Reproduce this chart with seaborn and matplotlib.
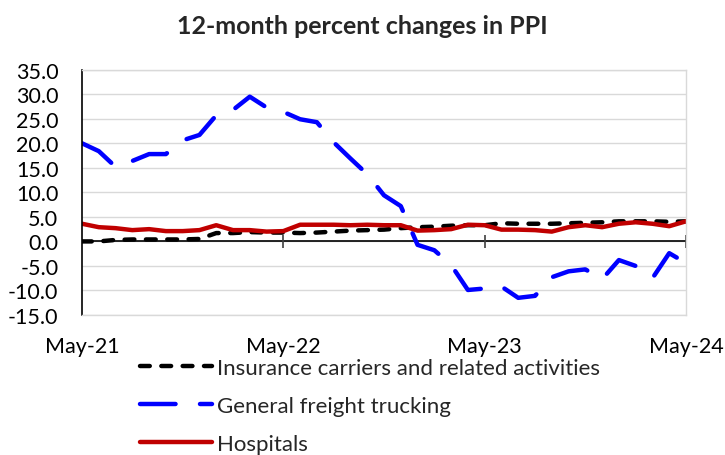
import numpy as np
import pandas as pd
import matplotlib
matplotlib.use("Agg")
import matplotlib.pyplot as plt
import seaborn as sns

# 12-month percent changes, May-21 .. May-24 (monthly)
insurance = [0.0, 0.0, 0.3, 0.4, 0.4, 0.4, 0.4, 0.5, 1.7, 1.7, 1.9, 1.8, 1.8,
             1.7, 1.8, 2.0, 2.2, 2.3, 2.4, 2.7, 2.9, 3.0, 3.2, 3.3, 3.3,
             3.7, 3.6, 3.6, 3.6, 3.7, 3.8, 3.9, 4.1, 4.1, 4.1, 4.0, 4.1]
trucking = [20.0, 18.4, 15.2, 16.4, 17.8, 17.8, 20.6, 21.7, 25.7, 26.8, 29.5, 27.3, 26.4,
            24.9, 24.3, 20.2, 16.9, 13.7, 9.4, 7.2, -0.7, -1.8, -4.8, -9.9, -9.6,
            -9.2, -11.5, -11.1, -7.3, -6.1, -5.7, -7.7, -3.8, -5.0, -7.5, -2.4, -4.4]
hospitals = [3.6, 2.9, 2.7, 2.3, 2.5, 2.1, 2.1, 2.3, 3.3, 2.3, 2.3, 2.0, 2.1,
             3.4, 3.4, 3.4, 3.3, 3.4, 3.3, 3.3, 2.2, 2.3, 2.5, 3.4, 3.3,
             2.4, 2.4, 2.3, 2.0, 2.9, 3.3, 2.9, 3.6, 3.9, 3.6, 3.1, 4.1]
series_names = ["Insurance carriers and related activities",
                "General freight trucking",
                "Hospitals"]
tick_pos = [0, 12, 24, 36]
tick_labels = ["May-21", "May-22", "May-23", "May-24"]

months = np.arange(len(insurance))
df = pd.concat([
    pd.DataFrame({"month": months, "value": vals, "series": name})
    for name, vals in zip(series_names, [insurance, trucking, hospitals])
])

sns.set_style("white")
plt.rcParams["font.family"] = ["Lato", "DejaVu Sans"]
plt.rcParams["lines.dash_capstyle"] = "round"
plt.rcParams["lines.solid_capstyle"] = "round"
plt.rcParams["lines.solid_joinstyle"] = "round"

fig = plt.figure(figsize=(7.25, 4.56), dpi=100)
ax = fig.add_axes([82 / 725, 1 - 316 / 456, 604 / 725, 245.3 / 456])

palette = {series_names[0]: "black", series_names[1]: "#0000FF", series_names[2]: "#C00000"}
dashes = {series_names[0]: (2.2, 2.6), series_names[1]: (8.0, 5.5), series_names[2]: ""}

sns.lineplot(data=df, x="month", y="value", hue="series", style="series",
             hue_order=series_names, style_order=series_names,
             palette=palette, dashes=dashes, linewidth=3.2, legend=False, ax=ax)

ax.set_xlim(0, 36)
ax.set_ylim(-15, 35)
ax.set_yticks(np.arange(-15, 36, 5))
ax.set_yticklabels([f"{v:.1f}" for v in np.arange(-15, 36, 5)])
ax.set_xticks(tick_pos)
ax.set_xticklabels(tick_labels)
ax.tick_params(axis="both", length=0, labelsize=15.5, colors="black")
ax.tick_params(axis="y", pad=17)
ax.tick_params(axis="x", pad=15)
ax.set_xlabel("")
ax.set_ylabel("")

ax.yaxis.grid(True, color="#D9D9D9", linewidth=1)
ax.set_axisbelow(True)
for side in ["top", "right", "bottom"]:
    ax.spines[side].set_color("#D9D9D9")
    ax.spines[side].set_linewidth(1)
ax.spines["left"].set_color("black")
ax.spines["left"].set_linewidth(1.2)

# category axis crossing at zero, with year tick marks
ax.axhline(0, color="black", linewidth=1.2, zorder=1.5)
ax.vlines(tick_pos[1:], -1.3, 1.3, color="#404040", linewidth=1.2, zorder=1.5)

fig.text(0.5, 1 - 27 / 456, "12-month percent changes in PPI",
         ha="center", va="center", fontsize=18, fontweight="bold")

handles = ax.get_lines()[:3]
fig.legend(handles, series_names, loc="upper left",
           bbox_to_anchor=(140 / 725, 1 - 359 / 456), frameon=False,
           fontsize=16, handlelength=3.25, handletextpad=0.22,
           labelspacing=0.8, borderpad=0, borderaxespad=0)

fig.savefig("out.png", dpi=100)
